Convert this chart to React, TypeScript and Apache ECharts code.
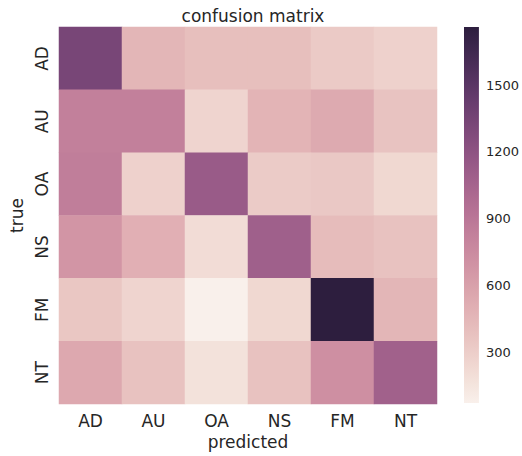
import React, { useEffect, useRef } from "react";
import * as echarts from "echarts";

const categories = ["AD", "AU", "OA", "NS", "FM", "NT"];
// rows = true class, columns = predicted class
const rowAD = [1330, 460, 400, 400, 330, 280];
const rowAU = [830, 830, 260, 470, 540, 370];
const rowOA = [850, 280, 1130, 320, 340, 240];
const rowNS = [680, 500, 210, 1090, 420, 380];
const rowFM = [350, 260, 75, 240, 1760, 460];
const rowNT = [550, 380, 170, 380, 720, 1080];
const rows = [rowAD, rowAU, rowOA, rowNS, rowFM, rowNT];
const colorbarTicks = [300, 600, 900, 1200, 1500];

// seaborn cubehelix_palette(light=.95, as_cmap=True)
function cubehelix(x: number): string {
  const start = 0, rot = 0.4, hue = 0.8, gamma = 1;
  const xg = Math.pow(x, gamma);
  const a = (hue * xg * (1 - xg)) / 2;
  const phi = 2 * Math.PI * (start / 3 + rot * x);
  const c = Math.cos(phi), s = Math.sin(phi);
  const clamp = (v: number) => Math.max(0, Math.min(1, v));
  const r = clamp(xg + a * (-0.14861 * c + 1.78277 * s));
  const g = clamp(xg + a * (-0.29227 * c - 0.90649 * s));
  const b = clamp(xg + a * (1.97294 * c));
  const h = (v: number) => Math.round(v * 255).toString(16).padStart(2, "0");
  return "#" + h(r) + h(g) + h(b);
}
const N_STOPS = 20;
const paletteColors: string[] = [];
for (let i = 0; i <= N_STOPS; i++) {
  paletteColors.push(cubehelix(0.95 - (0.8 * i) / N_STOPS));
}

export default function App() {
  const ref = useRef<HTMLDivElement>(null);
  useEffect(() => {
    if (!ref.current) return;
    const chart = echarts.init(ref.current, null, { renderer: "svg" });
    const data: number[][] = [];
    rows.forEach((row, yi) => row.forEach((v, xi) => data.push([xi, yi, v])));
    const all = data.map((d) => d[2]);
    const vmin = Math.min(...all);
    const vmax = Math.max(...all);
    const font = "DejaVu Sans";
    const txt = "#262626";
    // gradient from top (vmax, dark) to bottom (vmin, light)
    const gradStops = paletteColors
      .slice()
      .reverse()
      .map((color, i) => ({ offset: i / N_STOPS, color }));
    chart.setOption({
      animation: false,
      backgroundColor: "#ffffff",
      textStyle: { fontFamily: font },
      title: {
        text: "confusion matrix",
        left: 248,
        top: 2,
        textAlign: "center",
        textStyle: { fontFamily: font, fontSize: 17, fontWeight: "normal", color: txt },
      },
      grid: [
        { left: 59, top: 27, width: 378, height: 377 },
        { left: 464, top: 27, width: 19, height: 376 },
      ],
      xAxis: [
        {
          type: "category",
          gridIndex: 0,
          data: categories,
          name: "predicted",
          nameLocation: "middle",
          nameGap: 29,
          nameTextStyle: { fontFamily: font, fontSize: 17, color: txt },
          axisLine: { show: false },
          axisTick: { show: false },
          axisLabel: { fontFamily: font, fontSize: 17, color: txt, margin: 8 },
          splitLine: { show: false },
        },
        {
          type: "category",
          gridIndex: 1,
          data: ["c"],
          show: false,
        },
      ],
      yAxis: [
        {
          type: "category",
          gridIndex: 0,
          data: categories,
          inverse: true,
          name: "true",
          nameLocation: "middle",
          nameGap: 33,
          nameRotate: 90,
          nameTextStyle: { fontFamily: font, fontSize: 17, color: txt },
          axisLine: { show: false },
          axisTick: { show: false },
          axisLabel: { fontFamily: font, fontSize: 17, color: txt, rotate: 90, margin: 9 },
          splitLine: { show: false },
        },
        {
          type: "value",
          gridIndex: 1,
          position: "right",
          min: vmin,
          max: vmax,
          axisLine: { show: false },
          axisTick: { show: false },
          splitLine: { show: false },
          axisLabel: {
            customValues: colorbarTicks,
            formatter: (v: number) => String(v),
            fontFamily: font,
            fontSize: 13,
            color: txt,
            margin: 7,
          },
        },
      ],
      visualMap: {
        type: "continuous",
        show: false,
        seriesIndex: 0,
        min: vmin,
        max: vmax,
        inRange: { color: paletteColors },
      },
      series: [
        {
          type: "heatmap",
          xAxisIndex: 0,
          yAxisIndex: 0,
          data,
          itemStyle: { borderWidth: 0 },
          emphasis: { disabled: true },
        },
        {
          type: "custom",
          xAxisIndex: 1,
          yAxisIndex: 1,
          data: [[0, vmax]],
          silent: true,
          renderItem: (params: any, api: any) => {
            const topPt = api.coord([0, vmax]);
            const botPt = api.coord([0, vmin]);
            const w = api.size([1, 0])[0];
            return {
              type: "rect",
              shape: { x: topPt[0] - w / 2, y: topPt[1], width: w, height: botPt[1] - topPt[1] },
              style: { fill: new echarts.graphic.LinearGradient(0, 0, 0, 1, gradStops) },
            };
          },
        },
      ],
    });
    return () => chart.dispose();
  }, []);
  return <div ref={ref} style={{ width: 522, height: 456, position: "absolute", left: 0, top: 0 }} />;
}
